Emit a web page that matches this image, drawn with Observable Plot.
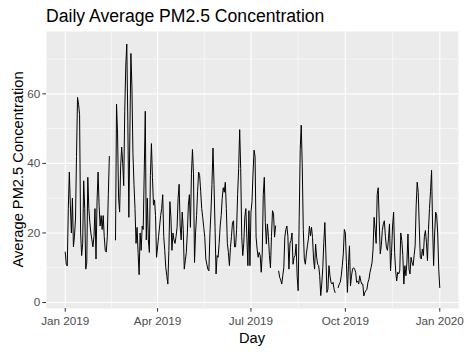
<!DOCTYPE html>
<html><head><meta charset="utf-8">
<script src="https://cdn.jsdelivr.net/npm/d3@7"></script>
<script src="https://cdn.jsdelivr.net/npm/@observablehq/plot@0.6"></script>
<style>
body{margin:0;background:#fff;}
#chart{width:466px;height:354px;}
</style></head><body><div id="chart"></div>
<script>
// Daily average PM2.5 (null = missing day)
const jan = [14.5, 11, 10.5, 27, 37.5, 28, 20, 30, 16, 19, 24, 42, 59, 57, 54, 20, 13.5, 17, 35, 27, 9.6, 11.5, 36, 27, 23, 20, 18, 16, 19, 27, 12.5];
const feb = [29, 37.5, 28, 22, 25, 21, 25, 19, 15, 14.5, 19, 31, 42, null, null, null, null, null, 18, 57, 48.5, 30, 26, 39, 44.7, 40, 33.6, 55];
const mar = [68, 74.3, 52, 24.5, 49, 71.6, 62, 42.8, 34, 27, 17, 21.6, 14.4, 8, 20, 15, 22, 21, 37.5, 55, 18, 30, 18, 14.4, 36.5, 45.7, 36, 28, 29.5, 25, 13];
const apr = [16, 19, 22, 25, 27, 31, 19, 15, 10, 7.7, 5.3, 15, 29, 24.5, 15, 20, 18, 17, 19, 21.6, 30, 34, 22, 18, 26, 21, 9.6, 12, 14.4, 20];
const may = [28, 31, 21.6, 37, 44, 37, 11.5, 20, 25, 32, 37.5, 36.5, 32, 27, 24.5, 21.6, 18.7, 12.5, 11, 9.6, 9.1, 19.7, 26, 34, 44.4, 34, 21.6, 8.2, 13.5, 13, 17];
const jun = [22, 25, 30, 33, 31.7, 34.6, 27, 17, 14.4, 10.6, 15.8, 19, 23, 23.5, 16, 16, 21, 31, 38.5, 49.7, 38.5, 19, 13.5, 17, 24.5, 27, 18.8, 10.6, 26.4, 10.6];
const jul = [26, 29, 37, 43.8, 42, 18.8, 15.4, 13, 14.4, 13.5, 8.7, 14, 31, 36, 23, 16.8, 22.6, 19, 13.5, 10, 19, 26.4, 25.5, 18.8, 22, null, null, 9, 7.2, 6.5, 5.3];
const aug = [7.7, 10, 18.8, 21, 22, 19, 9.6, 17, 17.8, 20, 11, 13, 13.5, 16.8, 7.7, 3.4, 24.5, 44, 51, 39, 21, 12.5, 11, 14, 16.3, 18.3, 22, 19.2, 21.6, 18.7, 12.5];
const sep = [9.6, 16.8, 13, 11, 10.6, 7.7, 2, 5.3, 10, 17.3, 23, 14, 2.9, 3.8, 10.6, 7.7, 5.8, 5.3, 5.8, 3.8, 2.9, null, null, 4.3, 5.3, 5.8, 7.7, 10.6, 14, 21];
const oct = [20, 11.5, 2.9, 10.6, 16.3, 4.8, 7.7, 9.6, 10, 9.6, 8.7, 5.8, 6.2, 5.3, 7.7, 6.2, 5.3, 5.3, 1.9, 2.9, 3.4, 3.8, 5.8, 6.7, 8.7, 10, 11.5, 15.4, 24.5, 21, 17];
const nov = [31, 33, 23.5, 14, 16.3, 20.7, 22.6, 23.5, 19, 15.9, 15, 18.3, 22.6, 9.1, 14.4, 22, 26, 14.4, 9.1, 6.2, 8.7, 8.2, 9.1, 20, 17.8, 13.5, 5.3, 10.6, 7.7, 11.5];
const dec = [19.7, 9.6, 8.2, 13, 11.5, 10.6, 13.5, 16.3, 27.9, 34.6, 31.7, 22, 13, 12.5, 15.4, 13.5, 19, 20.7, 17.3, 12, 21, 27, 32, 38, 22, 10.6, 19.7, 26, 25, 19.7, 9.6];
const jan2020 = [4.3];

const firstDay = "2019-01-01";
const xTickDates = ["2019-01-01", "2019-04-01", "2019-07-01", "2019-10-01", "2020-01-01"];
const yTickValues = [0, 20, 40, 60];
const yMinorValues = [10, 30, 50, 70];
const titleText = "Daily Average PM2.5 Concentration";
const xLabel = "Day";
const yLabel = "Average PM2.5 Concentration";

const values = [jan, feb, mar, apr, may, jun, jul, aug, sep, oct, nov, dec, jan2020].flat();
const start = new Date(firstDay + "T00:00:00Z");
const data = values.map((v, i) => ({date: d3.utcDay.offset(start, i), pm: v}));

const xTicks = xTickDates.map(d => new Date(d + "T00:00:00Z"));
const xMinor = d3.pairs(xTicks).map(([a, b]) => new Date((+a + +b) / 2));

const [xa, xb] = d3.extent(data, d => d.date);
const xs = xb - xa;
const xDomain = [new Date(+xa - 0.05 * xs), new Date(+xb + 0.05 * xs)];
const [ya, yb] = d3.extent(values.filter(v => v != null));
const ys = yb - ya;
const yDomain = [ya - 0.05 * ys, yb + 0.05 * ys];

const font = '"Liberation Sans", Arial, sans-serif';
const W = 466, H = 354, ML = 46, MR = 8, MT = 31, MB = 46;

const chart = Plot.plot({
  width: W, height: H,
  marginLeft: ML, marginRight: MR, marginTop: MT, marginBottom: MB,
  style: {fontFamily: font, background: "white", overflow: "visible"},
  x: {type: "utc", domain: xDomain},
  y: {domain: yDomain},
  marks: [
    Plot.frame({fill: "#EBEBEB", stroke: null}),
    Plot.ruleX(xMinor, {stroke: "white", strokeWidth: 0.55}),
    Plot.ruleY(yMinorValues, {stroke: "white", strokeWidth: 0.55}),
    Plot.ruleX(xTicks, {stroke: "white", strokeWidth: 1.1}),
    Plot.ruleY(yTickValues, {stroke: "white", strokeWidth: 1.1}),
    Plot.lineY(data, {x: "date", y: "pm", stroke: "black", strokeWidth: 1}),
    Plot.axisX(xTicks, {tickFormat: d3.utcFormat("%b %Y"), tickSize: 3.7, tickPadding: 4.5,
      stroke: "#333333", fill: "#4D4D4D", fontSize: 11.7, label: null}),
    Plot.axisY(yTickValues, {tickSize: 3.7, tickPadding: 2.5,
      stroke: "#333333", fill: "#4D4D4D", fontSize: 11.7, label: null})
  ]
});
document.getElementById("chart").appendChild(chart);

const svg = d3.select(chart);
svg.append("text").attr("x", ML).attr("y", 22).attr("font-size", 17.6)
  .attr("text-anchor", "start")
  .attr("fill", "black").attr("font-family", font).text(titleText);
svg.append("text").attr("x", ML + (W - ML - MR) / 2).attr("y", 343).attr("font-size", 14.67)
  .attr("text-anchor", "middle").attr("fill", "black").attr("font-family", font).text(xLabel);
svg.append("text").attr("transform", `translate(22.5,${MT + (H - MT - MB) / 2}) rotate(-90)`)
  .attr("font-size", 14.67).attr("text-anchor", "middle").attr("fill", "black")
  .attr("font-family", font).text(yLabel);
</script></body></html>
